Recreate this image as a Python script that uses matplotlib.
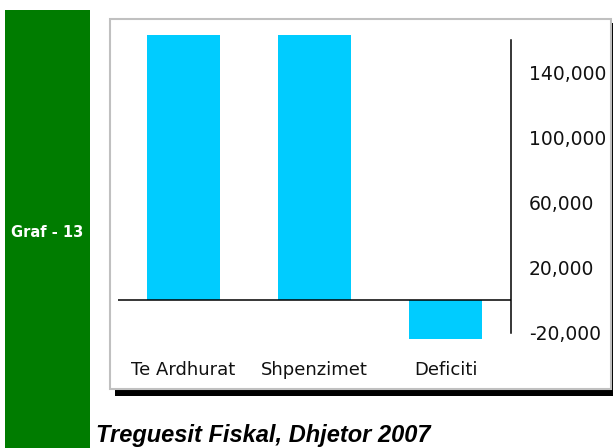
import matplotlib
matplotlib.use('Agg')
import matplotlib.pyplot as plt
from matplotlib.patches import Rectangle

# ==========================================
# Data
# ==========================================
categories = ['Te Ardhurat', 'Shpenzimet', 'Deficiti']
values = [163300, 163300, -23600]
tick_values = [-20000, 20000, 60000, 100000, 140000]
tick_labels = ['-20,000', '20,000', '60,000', '100,000', '140,000']
side_label = 'Graf - 13'
title_text = 'Treguesit Fiskal, Dhjetor 2007'

# ==========================================
# Figure layout (pixel based)
# ==========================================
W, H = 613, 448
fig = plt.figure(figsize=(W / 100, H / 100), dpi=100)
fig.patch.set_facecolor('white')


def fx(px):
    return px / W


def fy(py):
    return 1 - py / H


def add_rect(x0, y0, x1, y1, **kw):
    # rectangle given in pixel coords (top-left origin)
    r = Rectangle((fx(x0), fy(y1)), fx(x1) - fx(x0), fy(y0) - fy(y1),
                  transform=fig.transFigure, **kw)
    fig.patches.append(r)
    return r


# green side band
add_rect(5, 10, 90, 448, facecolor='#007c00', edgecolor='none', zorder=0)
fig.text(fx(47.5), fy(232), side_label, color='white', fontsize=10.5,
         fontweight='bold', ha='center', va='center')

# panel with shadow
add_rect(115, 23, 613, 396, facecolor='black', edgecolor='none', zorder=0)
add_rect(110, 19, 611, 389, facecolor='white', edgecolor='#c0c0c0',
         linewidth=1.5, zorder=1)

# ==========================================
# Bar chart
# ==========================================
ax_l, ax_r, ax_t, ax_b = 118, 511, 30, 350
zero_px = 300.3
units_per_px = 40000 / 65.0

ax = fig.add_axes([fx(ax_l), fy(ax_b), fx(ax_r) - fx(ax_l), fy(ax_t) - fy(ax_b)])
ax.set_zorder(2)
ax.patch.set_visible(False)

x = list(range(len(categories)))
ax.bar(x, values, width=0.557, color='#00ccff', edgecolor='none', zorder=2)
ax.axhline(0, color='black', linewidth=1.1, zorder=3)

ax.set_xlim(-0.5, len(categories) - 0.5)
ax.set_ylim(-(ax_b - zero_px) * units_per_px, (zero_px - ax_t) * units_per_px)

for s in ['top', 'left', 'bottom']:
    ax.spines[s].set_visible(False)
ax.spines['right'].set_bounds(-20000, 160000)
ax.spines['right'].set_linewidth(1.1)

ax.yaxis.tick_right()
ax.set_yticks(tick_values)
ax.set_yticklabels(tick_labels, fontsize=13.5, color='#111111')
ax.tick_params(axis='y', length=0, pad=13)

ax.set_xticks(x)
ax.set_xticklabels(categories, fontsize=13, color='#111111')
ax.tick_params(axis='x', length=0, pad=8)

# title below the panel
fig.text(fx(96), fy(442), title_text, fontsize=17, fontstyle='italic',
         fontweight='bold', family=['Liberation Sans', 'DejaVu Sans'],
         ha='left', va='baseline', color='black')

fig.savefig('out.png', dpi=100)
